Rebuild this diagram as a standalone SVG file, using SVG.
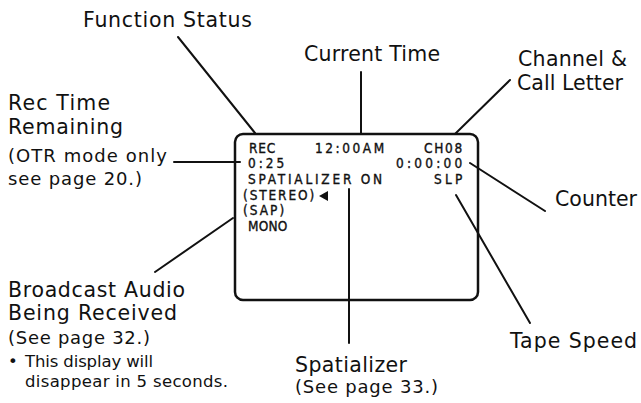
<svg xmlns="http://www.w3.org/2000/svg" width="641" height="403" viewBox="0 0 641 403">
<style>
.lbl{font-family:"DejaVu Sans","Liberation Sans",sans-serif;font-size:20.5px;fill:#111}
.sm{font-family:"DejaVu Sans","Liberation Sans",sans-serif;font-size:18px;fill:#111}
.xs{font-family:"DejaVu Sans","Liberation Sans",sans-serif;font-size:16.5px;fill:#111}
.osd{font-family:"Liberation Sans Narrow","DejaVu Sans Condensed","Liberation Sans",sans-serif;font-size:13.5px;fill:#111;stroke:#111;stroke-width:0.35;letter-spacing:0.8px}
.ln{stroke:#111;stroke-width:2;fill:none;stroke-linecap:round}
</style>
<rect width="641" height="403" fill="#fff"/>
<g id="screen">
<rect x="235" y="134" width="243" height="166" rx="8" fill="none" stroke="#111" stroke-width="2.5"/>
<text class="osd" x="249" y="153">REC</text>
<text class="osd" x="315" y="153" textLength="70">12:00AM</text>
<text class="osd" x="463" y="153" text-anchor="end" textLength="39">CH08</text>
<text class="osd" x="248" y="168" textLength="37">0:25</text>
<text class="osd" x="396" y="168" textLength="67">0:00:00</text>
<text class="osd" x="248" y="184" textLength="135">SPATIALIZER ON</text>
<text class="osd" x="463" y="184" text-anchor="end" textLength="29">SLP</text>
<text class="osd" x="243" y="200" textLength="72">(STEREO)</text>
<polygon points="319,196 328,191 328,201" fill="#111"/>
<text class="osd" x="243" y="215" textLength="42">(SAP)</text>
<text class="osd" x="248" y="231" textLength="40">MONO</text>
</g>
<g id="connectors">
<line class="ln" x1="178" y1="37" x2="255" y2="133"/>
<line class="ln" x1="361" y1="72" x2="361" y2="133"/>
<line class="ln" x1="510" y1="80" x2="455" y2="134"/>
<line class="ln" x1="470" y1="163" x2="545" y2="211"/>
<line class="ln" x1="456" y1="195" x2="530" y2="323"/>
<line class="ln" x1="349" y1="189" x2="349" y2="343"/>
<line class="ln" x1="174" y1="162" x2="240" y2="162"/>
<line class="ln" x1="155" y1="272" x2="233" y2="218"/>
</g>
<g id="function-status"><text class="lbl" x="83" y="27" textLength="169">Function Status</text></g>
<g id="current-time"><text class="lbl" x="304" y="61" textLength="136">Current Time</text></g>
<g id="channel"><text class="lbl" x="518" y="66" textLength="109">Channel &amp;</text><text class="lbl" x="517" y="90" textLength="106">Call Letter</text></g>
<g id="rec-time"><text class="lbl" x="8" y="110" textLength="102">Rec Time</text><text class="lbl" x="8" y="134" textLength="115">Remaining</text><text class="sm" x="8" y="162" textLength="159">(OTR mode only</text><text class="sm" x="8" y="185" textLength="134">see page 20.)</text></g>
<g id="counter"><text class="lbl" x="555" y="206" textLength="82">Counter</text></g>
<g id="tape-speed"><text class="lbl" x="510" y="348" textLength="127">Tape Speed</text></g>
<g id="spatializer"><text class="lbl" x="295" y="372" textLength="112">Spatializer</text><text class="sm" x="295" y="393" textLength="143">(See page 33.)</text></g>
<g id="broadcast"><text class="lbl" x="8" y="297" textLength="177">Broadcast Audio</text><text class="lbl" x="8" y="320" textLength="169">Being Received</text><text class="sm" x="8" y="344" textLength="142">(See page 32.)</text><text class="xs" x="8" y="367">•</text><text class="xs" x="25" y="367" textLength="128">This display will</text><text class="xs" x="25" y="387" textLength="203">disappear in 5 seconds.</text></g>
</svg>
